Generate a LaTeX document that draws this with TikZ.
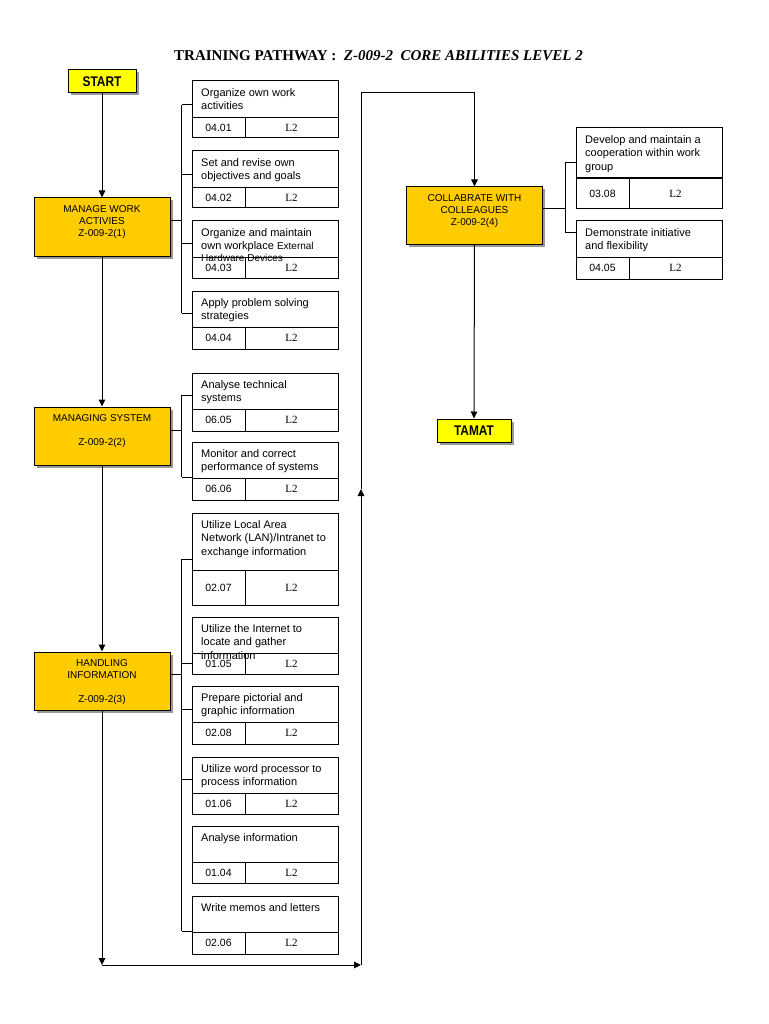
\documentclass[tikz,border=0pt]{standalone}
\usepackage{fontspec}
\setmainfont{Liberation Serif}
\setsansfont{Liberation Sans}
\newfontfamily\narrowsans{Liberation Sans}[FakeStretch=0.85]
\usetikzlibrary{arrows.meta, shadows}

\definecolor{phasegold}{HTML}{FFCC00}
\definecolor{termyellow}{HTML}{FFFF00}

\newcommand{\extrafont}{\sffamily\fontsize{10}{11}\selectfont}

% one unit card: name, x, top, divider, bottom, title, code
\newcommand{\unitcard}[7]{%
  \node[cardtop, minimum height={(#4-#3)*1pt}] (#1) at (#2,#3) {};
  \node[cardtext] (#1x) at (#1.north west) {#6};
  \node[codecell, minimum height={(#5-#4)*1pt}] (#1c) at (#1.south west) {#7};
  \node[levelcell, minimum height={(#5-#4)*1pt}] (#1l) at (#1c.north east) {L2};
}

\begin{document}
\begin{tikzpicture}[x=1pt, y=-1pt,
    line/.style={draw, line width=1pt},
    flow/.style={line, -{Triangle[length=7pt,width=6.5pt]}},
    boxshadow/.style={drop shadow={shadow xshift=2.5pt, shadow yshift=-2.5pt, fill=black!50, opacity=0.8}},
    phasebox/.style={draw, line width=1pt, fill=phasegold, minimum width=136pt, minimum height=58pt, boxshadow},
    phasetext/.style={anchor=north, align=center, yshift=-4pt, font=\sffamily\fontsize{10}{12}\selectfont},
    termbox/.style={draw, line width=1pt, fill=termyellow, minimum width=68pt, minimum height=23pt, inner sep=0pt, boxshadow, font=\narrowsans\bfseries\fontsize{14}{16}\selectfont},
    cardtop/.style={draw, line width=1pt, minimum width=146pt, anchor=north west, inner sep=0pt, outer sep=0pt},
    cardtext/.style={anchor=north west, align=left, inner xsep=9pt, inner ysep=7pt, font=\sffamily\fontsize{11}{13.5}\selectfont},
    codecell/.style={draw, line width=1pt, minimum width=53pt, anchor=north west, inner sep=0pt, outer sep=0pt, font=\sffamily\fontsize{10.5}{12}\selectfont},
    levelcell/.style={draw, line width=1pt, minimum width=93pt, anchor=north west, inner sep=0pt, outer sep=0pt, font=\fontsize{11}{12}\selectfont}
  ]
\useasboundingbox (0,0) rectangle (768,1024);

\node[font=\bfseries\fontsize{15}{18}\selectfont] (title) at (378.5,56)
  {TRAINING PATHWAY :\ \ \textit{Z-009-2\ \ CORE ABILITIES LEVEL 2}};

% main column
\node[termbox] (start) at (102,81.5) {START};
\node[phasebox, label={[phasetext]north:{MANAGE WORK\\ACTIVIES\\Z-009-2(1)}}] (mwa) at (102,227) {};
\node[phasebox, label={[phasetext]north:{MANAGING SYSTEM\\[12.5pt]Z-009-2(2)}}] (ms) at (102,436) {};
\node[phasebox, label={[phasetext]north:{HANDLING\\INFORMATION\\[12pt]Z-009-2(3)}}] (hi) at (102,681) {};
\node[phasebox, minimum height=57pt, label={[phasetext]north:{COLLABRATE WITH\\COLLEAGUES\\Z-009-2(4)}}] (collab) at (474.5,215.5) {};
\node[termbox, minimum width=74pt] (tamat) at (474,430.5) {TAMAT};

% unit cards
\unitcard{c1}{192}{81}{118}{138}{Organize own work\\activities}{04.01}
\unitcard{c2}{192}{151}{188}{208}{Set and revise own\\objectives and goals}{04.02}
\unitcard{c3}{192}{221}{257}{278}{Organize and maintain\\own workplace {\extrafont External}\\[-2pt]{\extrafont Hardware Devices}}{04.03}
\unitcard{c4}{192}{291}{327}{349}{Apply problem solving\\strategies}{04.04}
\unitcard{c5}{192}{373}{409}{431}{Analyse technical\\systems}{06.05}
\unitcard{c6}{192}{442}{478}{500}{Monitor and correct\\performance of systems}{06.06}
\unitcard{c7}{192}{513}{570}{605}{Utilize Local Area\\Network (LAN)/Intranet to\\exchange information}{02.07}
\unitcard{c8}{192}{617}{653}{674}{Utilize the Internet to\\locate and gather\\information}{01.05}
\unitcard{c9}{192}{686}{722}{744}{Prepare pictorial and\\graphic information}{02.08}
\unitcard{c10}{192}{757}{793}{814}{Utilize word processor to\\process information}{01.06}
\unitcard{c11}{192}{826}{862}{883}{Analyse information}{01.04}
\unitcard{c12}{192}{896}{932}{954}{Write memos and letters}{02.06}
\unitcard{c13}{576}{128}{178}{209}{Develop and maintain a\\cooperation within work\\group}{03.08}
\unitcard{c14}{576}{221}{257}{279}{Demonstrate initiative\\and flexibility}{04.05}
\draw[line width=2pt] (c13.south west) -- (c13.south east);

% brackets
\draw[line] ([yshift=6pt]mwa.east) -- ++(11,0) coordinate (mwab);
\foreach \c/\d in {c1/24,c2/24,c3/22,c4/22}
  \draw[line] (\c.north west) ++(0,\d) coordinate (tick-\c) -- (mwab |- tick-\c);
\draw[line] (mwab |- tick-c1) -- (mwab |- tick-c4);

\draw[line] ([yshift=5.5pt]ms.east) -- ++(11,0) coordinate (msb);
\foreach \c/\d in {c5/22,c6/35}
  \draw[line] (\c.north west) ++(0,\d) coordinate (tick-\c) -- (msb |- tick-\c);
\draw[line] (msb |- tick-c5) -- (msb |- tick-c6);

\draw[line] ([yshift=7pt]hi.east) -- ++(11,0) coordinate (hib);
\foreach \c/\d in {c7/46,c8/46,c9/23,c10/22,c12/35}
  \draw[line] (\c.north west) ++(0,\d) coordinate (tick-\c) -- (hib |- tick-\c);
\draw[line] (hib |- tick-c7) -- (hib |- tick-c12);

\draw[line] ([yshift=7pt]collab.east) -- ++(22,0) coordinate (colb);
\foreach \c/\d in {c13/35,c14/12}
  \draw[line] (\c.north west) ++(0,\d) coordinate (tick-\c) -- (colb |- tick-\c);
\draw[line] (colb |- tick-c13) -- (colb |- tick-c14);

% flow
\coordinate (bl) at (102,965);
\coordinate (br) at (361,965);
\coordinate (upmid) at (361,489);
\coordinate (tr) at (361,93);
\draw[flow] (start) -- (mwa);
\draw[flow] (mwa) -- (ms);
\draw[flow] (ms) -- (hi);
\draw[flow] (hi) -- (bl);
\draw[flow] (bl) -- (br);
\draw[flow] (br) -- (upmid);
\draw[flow] (upmid) -- (tr) -| (collab.north);
\draw[flow] (collab) -- (tamat);
\end{tikzpicture}
\end{document}
